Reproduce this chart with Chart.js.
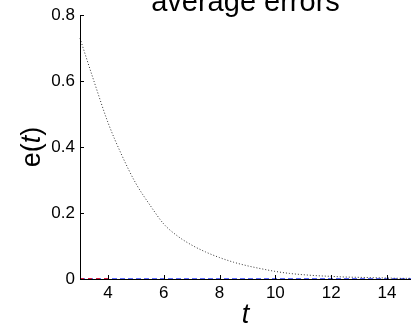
<!DOCTYPE html>
<html>
<head>
<meta charset="utf-8">
<script src="https://cdn.jsdelivr.net/npm/chart.js@4/dist/chart.umd.min.js"></script>
<style>
  html, body { margin: 0; padding: 0; background: #fff; }
  #wrap { width: 411px; height: 326px; position: relative; }
</style>
</head>
<body>
<div id="wrap"><canvas id="errChart"></canvas></div>
<script>
"use strict";

const tValues = [3, 3.5, 4, 4.5, 5, 5.5, 6, 6.5, 7, 7.5, 8, 8.5, 9, 9.5, 10, 10.5, 11, 11.5, 12, 12.5, 13, 13.5, 14, 14.5, 15];
const blackErrors = [0.73, 0.6, 0.475, 0.375, 0.29, 0.225, 0.167, 0.13, 0.103, 0.082, 0.065, 0.051, 0.04, 0.031, 0.023, 0.017, 0.013, 0.01, 0.008, 0.006, 0.005, 0.004, 0.003, 0.002, 0.002];
const redT = [3, 4];
const redErrors = [0, 0];
const blueT = [3, 15];
const blueErrors = [0, 0];
const xTicks = [4, 6, 8, 10, 12, 14];
const yTicks = [0, 0.2, 0.4, 0.6, 0.8];

const FONT = "'Liberation Sans', Arial, sans-serif";

function toPoints(xs, ys) {
  return xs.map((x, i) => ({ x, y: ys[i] }));
}

// inward tick marks, axis lines, title and axis labels (matlab-like look)
const decorPlugin = {
  id: "decor",
  afterDatasetsDraw(chart) {
    const ctx = chart.ctx;
    const area = chart.chartArea;
    const xs = chart.scales.x;
    const ys = chart.scales.y;
    ctx.save();
    ctx.strokeStyle = "#000";
    ctx.lineWidth = 1;
    ctx.beginPath();
    ctx.moveTo(area.left + 0.5, area.top);
    ctx.lineTo(area.left + 0.5, area.bottom + 0.5);
    ctx.lineTo(area.right, area.bottom + 0.5);
    xTicks.forEach((v) => {
      const px = Math.round(xs.getPixelForValue(v)) + 0.5;
      ctx.moveTo(px, area.bottom);
      ctx.lineTo(px, area.bottom - 4);
    });
    yTicks.forEach((v) => {
      const py = Math.round(ys.getPixelForValue(v)) + 0.5;
      ctx.moveTo(area.left, py);
      ctx.lineTo(area.left + 4, py);
    });
    ctx.stroke();

    ctx.fillStyle = "#000";
    ctx.textAlign = "center";
    ctx.textBaseline = "alphabetic";
    ctx.font = "29px " + FONT;
    ctx.fillText("average errors", (area.left + area.right) / 2, 11);

    ctx.font = "italic 27px " + FONT;
    ctx.fillText("t", (area.left + area.right) / 2, 323);

    ctx.translate(40, (area.top + area.bottom) / 2);
    ctx.rotate(-Math.PI / 2);
    ctx.font = "27px " + FONT;
    const w1 = ctx.measureText("e(").width;
    ctx.font = "italic 27px " + FONT;
    const w2 = ctx.measureText("t").width;
    ctx.font = "27px " + FONT;
    const w3 = ctx.measureText(")").width;
    const x0 = -(w1 + w2 + w3) / 2;
    ctx.textAlign = "left";
    ctx.fillText("e(", x0, 0);
    ctx.font = "italic 27px " + FONT;
    ctx.fillText("t", x0 + w1, 0);
    ctx.font = "27px " + FONT;
    ctx.fillText(")", x0 + w1 + w2, 0);
    ctx.restore();
  }
};

new Chart(document.getElementById("errChart"), {
  type: "line",
  data: {
    datasets: [
      {
        data: toPoints(tValues, blackErrors),
        borderColor: "#333",
        borderWidth: 1,
        borderDash: [1, 2],
        pointRadius: 0,
        cubicInterpolationMode: "monotone",
        clip: 4
      },
      {
        data: toPoints(redT, redErrors),
        borderColor: "#ff0000",
        borderWidth: 1.5,
        borderDash: [4, 4],
        pointRadius: 0,
        clip: 4
      },
      {
        data: toPoints(blueT, blueErrors),
        borderColor: "#2a3cff",
        borderWidth: 1.5,
        borderDash: [5, 3],
        pointRadius: 0,
        clip: 4
      }
    ]
  },
  options: {
    responsive: true,
    maintainAspectRatio: false,
    animation: false,
    layout: { padding: { top: 15, right: 0, left: 0, bottom: 0 } },
    plugins: {
      legend: { display: false },
      tooltip: { enabled: false },
      title: { display: false }
    },
    scales: {
      x: {
        type: "linear",
        min: 3,
        max: 14.86,
        afterBuildTicks: (scale) => { scale.ticks = xTicks.map((v) => ({ value: v })); },
        afterFit: (scale) => { scale.height = 47; },
        grid: { display: false, drawTicks: false },
        border: { display: false },
        ticks: {
          color: "#000",
          padding: 4,
          maxRotation: 0,
          font: { family: FONT, size: 17 }
        }
      },
      y: {
        type: "linear",
        min: 0,
        max: 0.8,
        afterBuildTicks: (scale) => { scale.ticks = yTicks.map((v) => ({ value: v })); },
        afterFit: (scale) => { scale.width = 80; },
        grid: { display: false, drawTicks: false },
        border: { display: false },
        ticks: {
          color: "#000",
          padding: 5,
          font: { family: FONT, size: 17 },
          callback: (v) => String(Math.round(v * 10) / 10)
        }
      }
    }
  },
  plugins: [decorPlugin]
});
</script>
</body>
</html>
